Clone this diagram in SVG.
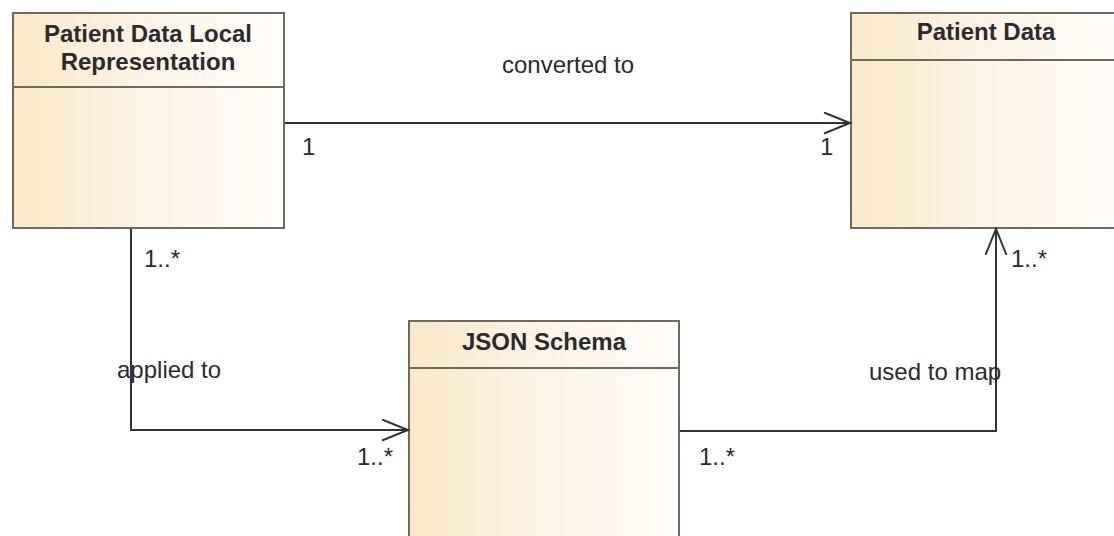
<svg xmlns="http://www.w3.org/2000/svg" width="1114" height="536" viewBox="0 0 1114 536">
<style>
.box{stroke:#6e6a5e;stroke-width:2;fill:url(#g)}
.sep{stroke:#6e6a5e;stroke-width:2}
.title{font-family:"Liberation Sans",Arial,sans-serif;font-weight:bold;font-size:24px;fill:#2b2b2b;text-anchor:middle}
.lbl{font-family:"Liberation Sans",Arial,sans-serif;font-size:24px;fill:#2b2b2b}
.edge{fill:none;stroke:#333;stroke-width:2}
</style>
<defs>
<linearGradient id="g" x1="0" y1="0" x2="1" y2="0">
<stop offset="0" stop-color="#fae9c9"/>
<stop offset="0.5" stop-color="#fdf4e6"/>
<stop offset="1" stop-color="#fffdfa"/>
</linearGradient>
<marker id="arr" markerUnits="userSpaceOnUse" markerWidth="30" markerHeight="24" refX="27" refY="11" orient="auto">
<path d="M1,0.5 L27,11 L1,21.5" fill="none" stroke="#333" stroke-width="2"/>
</marker>
</defs>
<g id="node-local">
<rect class="box" x="13" y="13" width="271" height="215"/>
<line class="sep" x1="13" y1="87" x2="284" y2="87"/>
<text class="title" x="148" y="42">Patient Data Local</text>
<text class="title" x="148" y="70">Representation</text>
</g>
<g id="node-patient">
<rect class="box" x="851" y="13" width="270" height="215"/>
<line class="sep" x1="851" y1="60" x2="1121" y2="60"/>
<text class="title" x="986" y="40">Patient Data</text>
</g>
<g id="node-json">
<rect class="box" x="409" y="321" width="270" height="218"/>
<line class="sep" x1="409" y1="368" x2="679" y2="368"/>
<text class="title" x="544" y="350">JSON Schema</text>
</g>
<g id="connectors">
<path class="edge" d="M285,123 L850,123" marker-end="url(#arr)"/>
<path class="edge" d="M131,229 L131,430 L408,430" marker-end="url(#arr)"/>
<path class="edge" d="M680,431 L996,431 L996,229" marker-end="url(#arr)"/>
<text class="lbl" x="568" y="73" text-anchor="middle">converted to</text>
<text class="lbl" x="302" y="155">1</text>
<text class="lbl" x="820" y="155">1</text>
<text class="lbl" x="144" y="267">1..*</text>
<text class="lbl" x="117" y="378">applied to</text>
<text class="lbl" x="357" y="465">1..*</text>
<text class="lbl" x="869" y="380">used to map</text>
<text class="lbl" x="699" y="465">1..*</text>
<text class="lbl" x="1011" y="267">1..*</text>
</g>
</svg>
